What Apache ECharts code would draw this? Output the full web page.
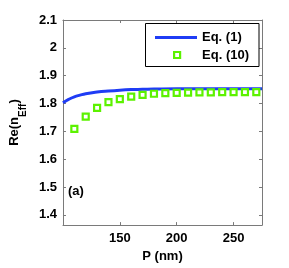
<!DOCTYPE html>
<html><head><meta charset="utf-8">
<script src="https://cdn.jsdelivr.net/npm/echarts@6/dist/echarts.min.js"></script>
<style>html,body{margin:0;padding:0;background:#fff}#c{width:289px;height:268px}</style>
</head><body><div id="c"></div>
<script>
// Eq. (1): continuous curve
var eq1P = [100, 105, 110, 115, 120, 130, 140, 150, 160, 170, 180, 200, 225, 250, 275];
var eq1N = [1.803, 1.815, 1.824, 1.830, 1.835, 1.841, 1.845, 1.848, 1.850, 1.851, 1.852, 1.853, 1.853, 1.853, 1.853];
// Eq. (10): square markers
var eq10P = [110, 120, 130, 140, 150, 160, 170, 180, 190, 200, 210, 220, 230, 240, 250, 260, 270];
var eq10N = [1.709, 1.753, 1.784, 1.805, 1.816, 1.825, 1.831, 1.835, 1.837, 1.838, 1.839, 1.840, 1.840, 1.841, 1.841, 1.841, 1.841];
var xTicks = [150, 200, 250];
var yTicks = [1.4, 1.5, 1.6, 1.7, 1.8, 1.9, 2, 2.1];

var font = 'Liberation Sans, Arial, sans-serif';
var axisGray = '#7a7a7a';
var blue = '#1f3cf5';
var green = '#5cf200';
var chart = echarts.init(document.getElementById('c'), null, {renderer: 'canvas'});
function pairs(xs, ys) { return xs.map(function (x, i) { return [x, ys[i]]; }); }
var legendText = {fontFamily: font, fontWeight: 'bold', fontSize: 13, color: '#000'};

chart.setOption({
  animation: false,
  backgroundColor: '#fff',
  grid: {left: 53, right: 27, top: 20, bottom: 36, containLabel: false},
  xAxis: [{
    type: 'value', min: 100, max: 275, position: 'bottom',
    name: 'P (nm)', nameLocation: 'middle', nameGap: 22,
    nameTextStyle: {fontFamily: font, fontWeight: 'bold', fontSize: 13, color: '#000'},
    axisLine: {show: true, lineStyle: {color: axisGray, width: 1}},
    axisTick: {show: true, inside: true, length: 3, customValues: xTicks, lineStyle: {color: axisGray}},
    axisLabel: {customValues: xTicks, margin: 7, fontFamily: font, fontWeight: 'bold', fontSize: 13, color: '#000'},
    splitLine: {show: false}
  }, {
    type: 'value', min: 100, max: 275, position: 'top',
    axisLine: {show: true, lineStyle: {color: axisGray, width: 1}},
    axisTick: {show: true, inside: true, length: 3, customValues: xTicks, lineStyle: {color: axisGray}},
    axisLabel: {show: false}, splitLine: {show: false}
  }],
  yAxis: [{
    type: 'value', min: 1.363, max: 2.1, position: 'left',
    name: '{a|Re(n}{b|Eff}{a|)}', nameLocation: 'middle', nameGap: 33, nameRotate: 90,
    nameTextStyle: {
      color: '#000',
      rich: {
        a: {fontFamily: font, fontWeight: 'bold', fontSize: 13, color: '#000', lineHeight: 20, verticalAlign: 'top'},
        b: {fontFamily: font, fontWeight: 'bold', fontSize: 10, color: '#000', lineHeight: 20, verticalAlign: 'bottom'}
      }
    },
    axisLine: {show: true, lineStyle: {color: axisGray, width: 1}},
    axisTick: {show: true, inside: true, length: 3, customValues: yTicks, lineStyle: {color: axisGray}},
    axisLabel: {customValues: yTicks, margin: 6, fontFamily: font, fontWeight: 'bold', fontSize: 13, color: '#000',
      formatter: function (v) { return String(Math.round(v * 10) / 10); }},
    splitLine: {show: false}
  }, {
    type: 'value', min: 1.363, max: 2.1, position: 'right',
    axisLine: {show: true, lineStyle: {color: axisGray, width: 1}},
    axisTick: {show: true, inside: true, length: 3, customValues: yTicks, lineStyle: {color: axisGray}},
    axisLabel: {show: false}, splitLine: {show: false}
  }],
  legend: [{
    orient: 'vertical', left: 155, top: 31, padding: 0,
    itemWidth: 42, itemHeight: 3, icon: 'rect',
    itemStyle: {color: blue},
    textStyle: legendText,
    data: ['Eq. (1)']
  }, {
    orient: 'vertical', left: 173, top: 48.5, padding: 0,
    itemWidth: 6, itemHeight: 6, icon: 'rect',
    itemStyle: {color: '#fff', borderColor: green, borderWidth: 2.2},
    textStyle: Object.assign({padding: [0, 0, 0, 17]}, legendText),
    data: ['Eq. (10)']
  }],
  graphic: [{
    type: 'rect', z: 5, silent: true,
    shape: {x: 145.5, y: 23.5, width: 113.5, height: 43},
    style: {fill: 'none', stroke: '#000', lineWidth: 1}
  }, {
    type: 'text', left: 68, top: 185,
    style: {text: '(a)', fontFamily: font, fontWeight: 'bold', fontSize: 13, fill: '#000'}
  }],
  series: [{
    name: 'Eq. (1)', type: 'line', smooth: true, symbol: 'none',
    lineStyle: {color: blue, width: 3},
    itemStyle: {color: blue},
    data: pairs(eq1P, eq1N), z: 2
  }, {
    name: 'Eq. (10)', type: 'scatter', symbol: 'rect', symbolSize: 6,
    itemStyle: {color: '#fff', borderColor: green, borderWidth: 2.2, opacity: 1},
    data: pairs(eq10P, eq10N), z: 3
  }]
});
</script></body></html>
